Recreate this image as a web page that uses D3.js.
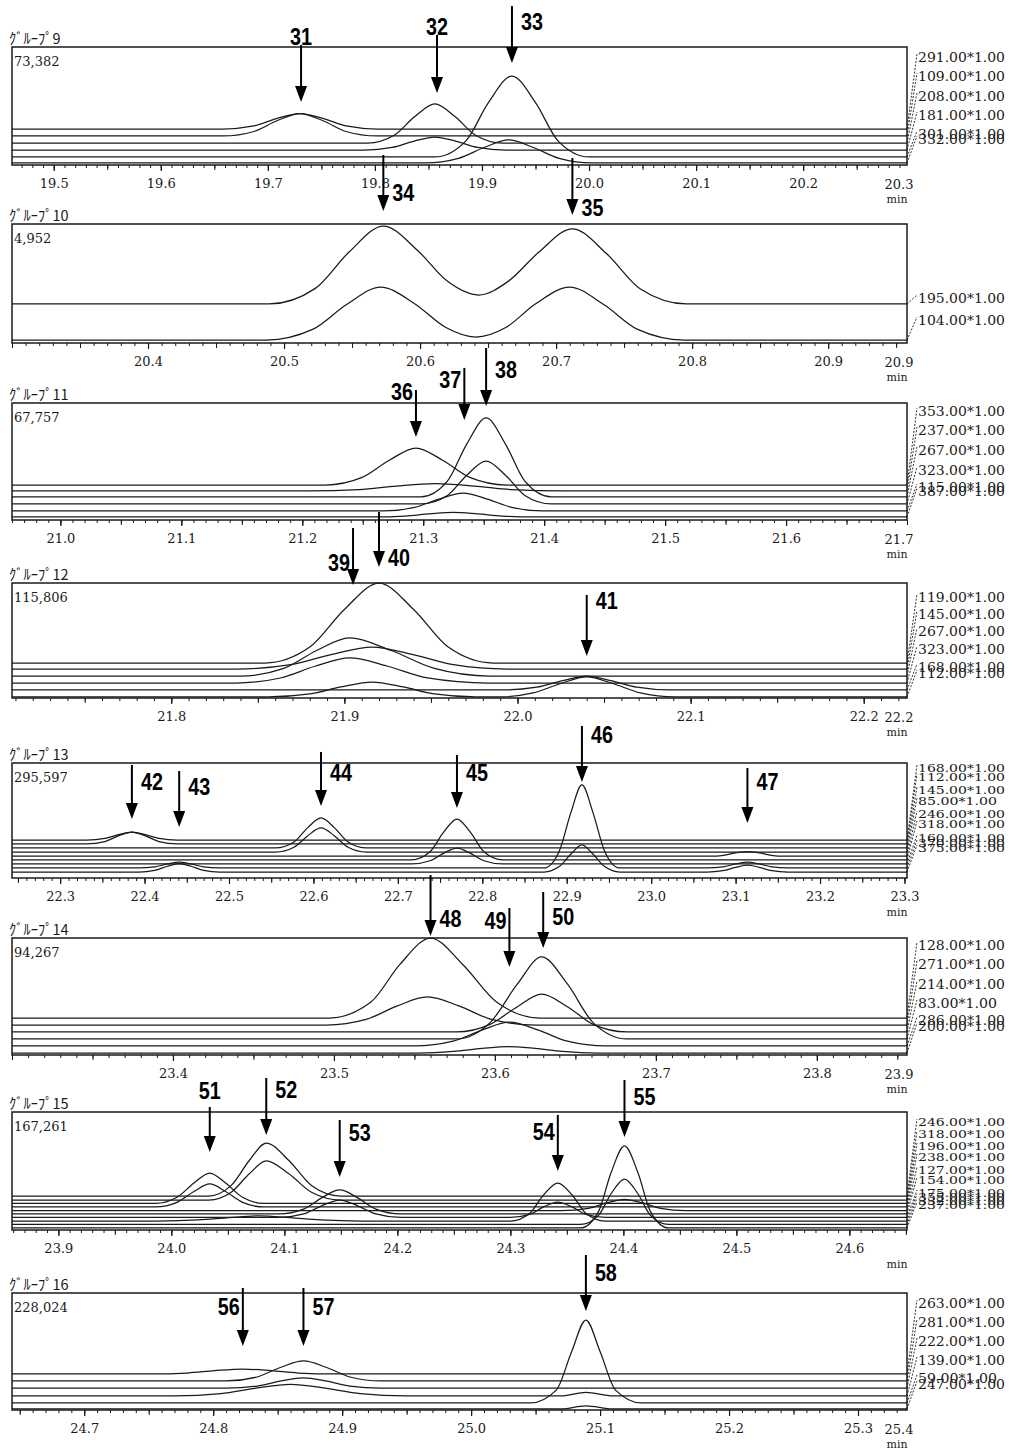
<!DOCTYPE html>
<html><head><meta charset="utf-8">
<script src="https://cdn.jsdelivr.net/npm/d3@7"></script>
<style>body{margin:0;background:#fff}svg{display:block}</style>
</head><body>
<svg id="c" width="1014" height="1454"></svg>
<script>
// ================= DATA =================
const groupNames = ["ｸﾞﾙｰﾌﾟ9","ｸﾞﾙｰﾌﾟ10","ｸﾞﾙｰﾌﾟ11","ｸﾞﾙｰﾌﾟ12","ｸﾞﾙｰﾌﾟ13","ｸﾞﾙｰﾌﾟ14","ｸﾞﾙｰﾌﾟ15","ｸﾞﾙｰﾌﾟ16"];
const maxCounts = ["73,382","4,952","67,757","115,806","295,597","94,267","167,261","228,024"];
// retention time window of each panel (min)
const timeRanges = [[19.461,20.297],[20.30,20.958],[20.96,21.70],[21.708,22.225],[22.243,23.303],[23.300,23.856],[23.859,24.651],[24.644,25.338]];
const tickValuesList = [
  [19.5,19.6,19.7,19.8,19.9,20.0,20.1,20.2],
  [20.4,20.5,20.6,20.7,20.8,20.9],
  [21.0,21.1,21.2,21.3,21.4,21.5,21.6],
  [21.8,21.9,22.0,22.1,22.2],
  [22.3,22.4,22.5,22.6,22.7,22.8,22.9,23.0,23.1,23.2,23.3],
  [23.4,23.5,23.6,23.7,23.8],
  [23.9,24.0,24.1,24.2,24.3,24.4,24.5,24.6],
  [24.7,24.8,24.9,25.0,25.1,25.2,25.3]
];
const endLabels = ["20.3","20.9","21.7","22.2",null,"23.9",null,"25.4"];

// ion (m/z) labels per panel
const ions9  = ["291.00*1.00","109.00*1.00","208.00*1.00","181.00*1.00","301.00*1.00","332.00*1.00"];
const ions10 = ["195.00*1.00","104.00*1.00"];
const ions11 = ["353.00*1.00","237.00*1.00","267.00*1.00","323.00*1.00","115.00*1.00","387.00*1.00"];
const ions12 = ["119.00*1.00","145.00*1.00","267.00*1.00","323.00*1.00","168.00*1.00","112.00*1.00"];
const ions13 = ["168.00*1.00","112.00*1.00","145.00*1.00","85.00*1.00","246.00*1.00","318.00*1.00","160.00*1.00","370.00*1.00","375.00*1.00"];
const ions14 = ["128.00*1.00","271.00*1.00","214.00*1.00","83.00*1.00","286.00*1.00","200.00*1.00"];
const ions15 = ["246.00*1.00","318.00*1.00","196.00*1.00","238.00*1.00","127.00*1.00","154.00*1.00","175.00*1.00","355.00*1.00","332.00*1.00","237.00*1.00"];
const ions16 = ["263.00*1.00","281.00*1.00","222.00*1.00","139.00*1.00","59.00*1.00","247.00*1.00"];

// trace baseline levels (% of panel full scale)
const base9  = [30.5,24.6,18.6,12.7,6.8,1.7];
const base10 = [32.8,2.5];
const base11 = [29.9,24.8,19.7,13.7,7.7,2.6];
const base12 = [30.4,25.2,19.1,13.0,7.0,0.9];
const base13 = [33.0,29.6,26.1,22.6,19.1,15.7,12.2,8.7,5.2];
const base14 = [31.6,25.6,19.7,13.7,7.7,1.7];
const base15 = [28.8,25.4,22.5,19.5,16.5,13.6,10.6,7.6,4.7,1.7];
const base16 = [30.8,24.8,18.8,12.0,6.0,0.9];

// peak regions of each trace: [time (min), intensity (% full scale)]
const peaks9 = [
  [[19.658,30.5],[19.687,33.1],[19.708,39.3],[19.730,43.6],[19.752,39.3],[19.773,33.1],[19.802,30.5]],
  [[19.658,24.6],[19.687,28.4],[19.708,37.3],[19.730,43.6],[19.752,37.3],[19.773,28.4],[19.802,24.6]],
  [[19.793,18.6],[19.818,25.2],[19.837,40.8],[19.856,51.7],[19.875,40.8],[19.894,25.2],[19.919,18.6]],
  [[19.790,12.7],[19.816,14.9],[19.836,20.1],[19.856,23.7],[19.876,20.1],[19.896,14.9],[19.922,12.7]],
  [[19.856,6.8],[19.885,20.5],[19.906,52.8],[19.928,75.4],[19.950,52.8],[19.971,20.5],[20.000,6.8]],
  [[19.847,1.7],[19.878,5.6],[19.902,14.8],[19.925,21.2],[19.948,14.8],[19.972,5.6],[20.003,1.7]]
];
const peaks10 = [
  [[20.489,32.8],[20.523,45.9],[20.548,76.7],[20.573,98.3],[20.598,78],[20.620,52],[20.643,40.3],[20.665,52],[20.687,76],[20.712,96],[20.737,75.2],[20.762,45.4],[20.796,32.8]],
  [[20.487,2.5],[20.521,11.4],[20.546,32.3],[20.571,47],[20.596,33],[20.619,13],[20.641,5],[20.663,13],[20.685,33],[20.710,47],[20.735,32.3],[20.760,11.4],[20.794,2.5]]
];
const peaks11 = [
  [[21.219,29.9],[21.249,36.2],[21.272,51.1],[21.294,61.5],[21.316,51.1],[21.339,36.2],[21.369,29.9]],
  [[21.205,24.8],[21.247,26.0],[21.278,29.0],[21.310,31.0],[21.342,29.0],[21.373,26.0],[21.415,24.8]],
  [[21.298,19.7],[21.320,33.2],[21.336,64.9],[21.352,87.2],[21.368,64.9],[21.384,33.2],[21.406,19.7]],
  [[21.298,13.7],[21.320,21.0],[21.336,38.3],[21.352,50.4],[21.368,38.3],[21.384,21.0],[21.406,13.7]],
  [[21.267,7.7],[21.293,10.8],[21.313,17.9],[21.333,23.0],[21.353,17.9],[21.373,10.8],[21.399,7.7]],
  [[21.259,2.6],[21.285,3.4],[21.305,5.2],[21.325,6.5],[21.345,5.2],[21.365,3.4],[21.391,2.6]]
];
const peaks12 = [
  [[21.854,30.4],[21.880,44.3],[21.900,77.0],[21.920,100],[21.940,77.0],[21.960,44.3],[21.986,30.4]],
  [[21.838,25.2],[21.869,29.0],[21.893,38.0],[21.916,44.3],[21.939,38.0],[21.963,29.0],[21.994,25.2]],
  [[21.840,19.1],[21.865,25.7],[21.884,41.3],[21.903,52.2],[21.927,41.3],[21.952,25.7],[21.984,19.1]],
  [[21.837,13.0],[21.863,17.4],[21.883,27.6],[21.903,34.8],[21.925,27.6],[21.948,17.4],[21.983,13.0]],
  [[21.992,7.0],[22.011,9.4],[22.026,15.1],[22.040,19.1],[22.054,15.1],[22.069,9.4],[22.088,7.0]],
  [[21.856,0.9],[21.880,3.5],[21.898,9.6],[21.916,13.9],[21.934,9.6],[21.952,3.5],[21.976,0.9],
   [21.989,0.9],[22.009,4.4],[22.025,12.6],[22.040,18.3],[22.055,12.6],[22.071,4.4],[22.091,0.9]]
];
const peaks13 = [
  [[22.331,33],[22.353,34.4],[22.369,37.7],[22.385,40],[22.401,37.7],[22.417,34.4],[22.439,33]],
  [[22.331,29.6],[22.353,31.7],[22.369,36.6],[22.385,40],[22.401,36.6],[22.417,31.7],[22.439,29.6]],
  [[22.555,26.1],[22.577,31.3],[22.593,43.6],[22.609,52.2],[22.625,43.6],[22.641,31.3],[22.663,26.1]],
  [[22.555,22.6],[22.577,26.8],[22.593,36.6],[22.609,43.5],[22.625,36.6],[22.641,26.8],[22.663,22.6]],
  [[23.078,19.1],[23.100,21.8],[23.114,23.0],[23.128,21.8],[23.150,19.1]],
  [[22.716,15.7],[22.738,22.8],[22.754,39.6],[22.770,51.3],[22.786,39.6],[22.802,22.8],[22.824,15.7]],
  [[22.716,12.2],[22.738,15.0],[22.754,21.4],[22.770,26.0],[22.786,21.4],[22.802,15.0],[22.824,12.2]],
  [[22.393,8.7],[22.412,9.7],[22.427,12.2],[22.441,13.9],[22.455,12.2],[22.470,9.7],[22.489,8.7],
   [22.873,8.7],[22.891,23.1],[22.905,57.1],[22.918,80.9],[22.931,57.1],[22.945,23.1],[22.963,8.7],
   [23.066,8.7],[23.085,9.7],[23.100,12.2],[23.114,13.9],[23.128,12.2],[23.143,9.7],[23.162,8.7]],
  [[22.393,5.2],[22.412,6.7],[22.427,10.2],[22.441,12.6],[22.455,10.2],[22.470,6.7],[22.489,5.2],
   [22.873,5.2],[22.891,9.9],[22.905,20.9],[22.918,28.7],[22.931,20.9],[22.945,9.9],[22.963,5.2],
   [23.066,5.2],[23.085,6.4],[23.100,9.3],[23.114,11.3],[23.128,9.3],[23.143,6.4],[23.162,5.2]]
];
const peaks14 = [
  [[23.497,31.6],[23.523,45.3],[23.541,77.4],[23.560,100],[23.580,77.4],[23.601,45.3],[23.628,31.6]],
  [[23.495,25.6],[23.520,30.4],[23.539,41.7],[23.558,49.6],[23.578,41.7],[23.598,30.4],[23.626,25.6]],
  [[23.576,19.7],[23.597,26.2],[23.614,41.3],[23.629,52],[23.645,41.3],[23.661,26.2],[23.682,19.7]],
  [[23.576,13.7],[23.597,27.7],[23.614,60.7],[23.629,83.8],[23.645,60.7],[23.661,27.7],[23.682,13.7]],
  [[23.550,7.7],[23.574,11.8],[23.592,21.3],[23.609,28],[23.627,21.3],[23.645,11.8],[23.669,7.7]],
  [[23.552,1.7],[23.574,3.0],[23.592,5.6],[23.608,7.2],[23.625,5.6],[23.642,3.0],[23.664,1.7]]
];
const peaks15 = [
  [[24.033,28.8],[24.053,37.8],[24.069,58.9],[24.084,73.7],[24.104,58.9],[24.124,37.8],[24.150,28.8]],
  [[24.033,25.4],[24.053,32.0],[24.069,47.6],[24.084,58.5],[24.104,47.6],[24.124,32.0],[24.150,25.4]],
  [[23.986,22.5],[24.005,27.7],[24.020,39.8],[24.034,48.3],[24.048,39.8],[24.063,27.7],[24.082,22.5]],
  [[23.986,19.5],[24.005,23.4],[24.020,32.6],[24.034,39.0],[24.048,32.6],[24.063,23.4],[24.082,19.5]],
  [[24.345,16.5],[24.369,18.4],[24.385,22.9],[24.401,26],[24.417,22.9],[24.433,18.4],[24.455,16.5]],
  [[24.095,13.6],[24.117,17.7],[24.133,27.2],[24.149,33.9],[24.165,27.2],[24.181,17.7],[24.203,13.6]],
  [[24.095,10.6],[24.117,13.6],[24.133,20.5],[24.149,25.4],[24.165,20.5],[24.181,13.6],[24.203,10.6],
   [24.300,10.6],[24.317,13.2],[24.329,19.4],[24.342,23.7],[24.355,19.4],[24.367,13.2],[24.384,10.6]],
  [[23.988,7.6],[24.024,8.5],[24.051,10.5],[24.078,12],[24.105,10.5],[24.132,8.5],[24.168,7.6],
   [24.300,7.6],[24.317,14.0],[24.329,29.2],[24.342,39.8],[24.355,29.2],[24.367,14.0],[24.384,7.6]],
  [[24.362,4.7],[24.378,12.4],[24.389,30.5],[24.401,43.2],[24.413,30.5],[24.424,12.4],[24.440,4.7]],
  [[24.362,1.7],[24.378,15.6],[24.389,48.3],[24.401,71.2],[24.413,48.3],[24.424,15.6],[24.440,1.7]]
];
const peaks16 = [
  [[24.751,30.8],[24.780,31.6],[24.801,33.6],[24.823,35],[24.845,33.6],[24.866,31.6],[24.895,30.8]],
  [[24.810,24.8],[24.834,28.2],[24.852,36.3],[24.870,41.9],[24.888,36.3],[24.906,28.2],[24.930,24.8]],
  [[24.810,18.8],[24.834,20.5],[24.852,24.6],[24.870,27.4],[24.888,24.6],[24.906,20.5],[24.930,18.8]],
  [[24.770,12],[24.806,14],[24.833,18.7],[24.860,22],[24.887,18.7],[24.914,14],[24.950,12],
   [25.070,12],[25.089,15],[25.110,12]],
  [[25.046,6.0],[25.066,17],[25.078,50],[25.089,76.9],[25.100,50],[25.112,17],[25.132,6.0]],
  [[25.070,0.9],[25.089,3.5],[25.110,0.9]]
];

// peak annotations: [number, time, arrow top %, arrow tip %, label side, label level %]
const arrows9  = [[31,19.731,101.7,53.4,"above",108.5],[32,19.858,110.2,61,"above",117],[33,19.928,134.7,86.4,"right",121.2]];
const arrows10 = [[34,20.573,158,110.9,"right",126],[35,20.712,155.5,107.6,"right",113.4]];
const arrows11 = [[36,21.294,111.1,70.9,"left",109.4],[37,21.334,130,85.5,"left",119.7],[38,21.352,147,97.4,"right",128.2]];
const arrows12 = [[39,21.905,147.8,98.3,"left",117.4],[40,21.920,161.7,113.9,"right",121.7],[41,22.040,89.6,36.5,"right",84.3]];
const arrows13 = [[42,22.385,98.3,51.3,"right",83.5],[43,22.441,93,44.3,"right",79.1],[44,22.609,109.6,62.6,"right",91.3],[45,22.770,107,60.9,"right",91.3],[46,22.918,132.2,83.5,"right",124.3],[47,23.114,95.7,47.8,"right",83.5]];
const arrows14 = [[48,23.560,153.8,101.7,"right",116.2],[49,23.609,125.6,75.2,"left",114.5],[50,23.630,139.3,91.5,"right",118]];
const arrows15 = [[51,24.034,104.2,66.1,"above",117.8],[52,24.084,128.8,80.5,"right",118.6],[53,24.149,93.2,44.9,"right",82.2],[54,24.342,97.5,50,"left",83.1],[55,24.401,127.1,78.8,"right",112.7]];
const arrows16 = [[56,24.823,104.3,54.7,"left",88],[57,24.870,104.3,54.7,"right",88],[58,25.089,132.5,84.6,"right",117.1]];

// ================= LAYOUT =================
const frames = [[47,165],[224,343],[403,520],[583,698],[763,878],[938,1055],[1112,1230],[1293,1410]];
const frameLeft = 12, frameRight = 907;
const ionLabelRows = [
  [57,76,96,115,134,139],
  [298,320],
  [411,430,450,470,487,491],
  [597,614,631,649,667,673],
  [768,777,790,801,814,824,838,843,848],
  [945,964,984,1003,1020,1026],
  [1122,1134,1146,1157,1170,1180,1193,1197,1201,1205],
  [1303,1322,1341,1360,1378,1384]
];
const denseLabels = [false,false,false,false,true,false,true,false];

const ionsAll = [ions9,ions10,ions11,ions12,ions13,ions14,ions15,ions16];
const baseAll = [base9,base10,base11,base12,base13,base14,base15,base16];
const peaksAll = [peaks9,peaks10,peaks11,peaks12,peaks13,peaks14,peaks15,peaks16];
const arrowsAll = [arrows9,arrows10,arrows11,arrows12,arrows13,arrows14,arrows15,arrows16];

const serif = "'DejaVu Serif','Liberation Serif',serif";
const svg = d3.select("#c");
const ink = "#1a1a1a";
const arrowLayer = [];

groupNames.forEach((name, i) => {
  const [top, bottom] = frames[i];
  const [t0, t1] = timeRanges[i];
  const x = d3.scaleLinear().domain([t0, t1]).range([frameLeft, frameRight]);
  const y = d3.scaleLinear().domain([0, 100]).range([bottom, top]);
  const g = svg.append("g");

  // title and full-scale value
  g.append("text").attr("x", 9).attr("y", top - 3)
    .attr("font-family", "'Noto Sans CJK JP',sans-serif").attr("font-size", 14.5)
    .attr("fill", ink).text(name);
  g.append("text").attr("x", 14).attr("y", top + 19)
    .attr("font-family", serif).attr("font-size", 13).attr("fill", ink).text(maxCounts[i]);

  // axes ticks
  const minor = d3.range(Math.ceil(t0 * 100 - 1e-6), Math.floor(t1 * 100 + 1e-6) + 1).map(v => v / 100);
  const mid = minor.filter(v => Math.round(v * 100) % 5 === 0);
  const mkAxis = (vals, size) => g.append("g").attr("transform", `translate(0,${bottom})`)
    .call(d3.axisBottom(x).tickValues(vals).tickSize(size).tickFormat(""))
    .call(a => a.select(".domain").remove())
    .call(a => a.selectAll("line").attr("stroke", ink).attr("stroke-width", 1));
  mkAxis(minor, 3);
  mkAxis(mid, 5);
  g.append("g").attr("transform", `translate(0,${bottom})`)
    .call(d3.axisBottom(x).tickValues(tickValuesList[i]).tickSize(6).tickPadding(8).tickFormat(d3.format(".1f")))
    .call(a => a.select(".domain").remove())
    .call(a => a.selectAll("line").attr("stroke", ink).attr("stroke-width", 1.2))
    .call(a => a.selectAll("text").attr("font-family", serif).attr("font-size", 13).attr("fill", ink));
  if (endLabels[i]) {
    g.append("text").attr("x", frameRight - 8).attr("y", bottom + 24).attr("text-anchor", "middle")
      .attr("font-family", serif).attr("font-size", 13).attr("fill", ink).text(endLabels[i]);
  }
  g.append("text").attr("x", frameRight - 10).attr("y", bottom + 38).attr("text-anchor", "middle")
    .attr("font-family", serif).attr("font-size", 11).attr("fill", ink).text("min");

  // traces
  const line = d3.line().x(d => x(d[0])).y(d => y(d[1])).curve(d3.curveMonotoneX);
  baseAll[i].forEach((b, k) => {
    const pts = [[t0, b], ...peaksAll[i][k], [t1, b]];
    g.append("path").attr("d", line(pts)).attr("fill", "none")
      .attr("stroke", ink).attr("stroke-width", 1.25);
  });

  // frame
  g.append("rect").attr("x", frameLeft).attr("y", top)
    .attr("width", frameRight - frameLeft).attr("height", bottom - top)
    .attr("fill", "none").attr("stroke", ink).attr("stroke-width", 1.5);

  // ion labels with leader lines
  const dense = denseLabels[i];
  ionsAll[i].forEach((lab, k) => {
    const ly = ionLabelRows[i][k];
    g.append("line").attr("x1", frameRight).attr("y1", y(baseAll[i][k]))
      .attr("x2", frameRight + 10).attr("y2", ly - 3)
      .attr("stroke", ink).attr("stroke-width", 0.9).attr("stroke-dasharray", "2,1.5");
    g.append("text").attr("x", frameRight + 11).attr("y", ly + (dense ? 4 : 5))
      .attr("font-family", serif).attr("font-size", dense ? 11 : 13.5).attr("fill", ink)
      .attr("textLength", 87 * lab.length / 11).attr("lengthAdjust", "spacingAndGlyphs")
      .text(lab);
  });

  arrowsAll[i].forEach(a => arrowLayer.push({a, x, y}));
});

// annotation arrows on top
const ag = svg.append("g");
arrowLayer.forEach(({a, x, y}) => {
  const [num, t, topP, tipP, side, labP] = a;
  const ax = x(t), yTop = y(topP), yTip = y(tipP);
  ag.append("line").attr("x1", ax).attr("x2", ax).attr("y1", yTop).attr("y2", yTip - 12)
    .attr("stroke", "#000").attr("stroke-width", 2);
  ag.append("path").attr("d", `M${ax - 6},${yTip - 16}L${ax + 6},${yTip - 16}L${ax},${yTip}Z`).attr("fill", "#000");
  const ly = y(labP) + 8;
  const tx = side === "right" ? ax + 9 : side === "left" ? ax - 3 : ax;
  const anchor = side === "right" ? "start" : side === "left" ? "end" : "middle";
  ag.append("text").attr("x", tx).attr("y", ly).attr("text-anchor", anchor)
    .attr("font-family", "'Liberation Sans Narrow','Liberation Sans',Arial,sans-serif")
    .attr("font-weight", "bold").attr("font-size", 23).attr("fill", "#000")
    .attr("textLength", 22).attr("lengthAdjust", "spacingAndGlyphs")
    .text(num);
});
</script>
</body></html>
